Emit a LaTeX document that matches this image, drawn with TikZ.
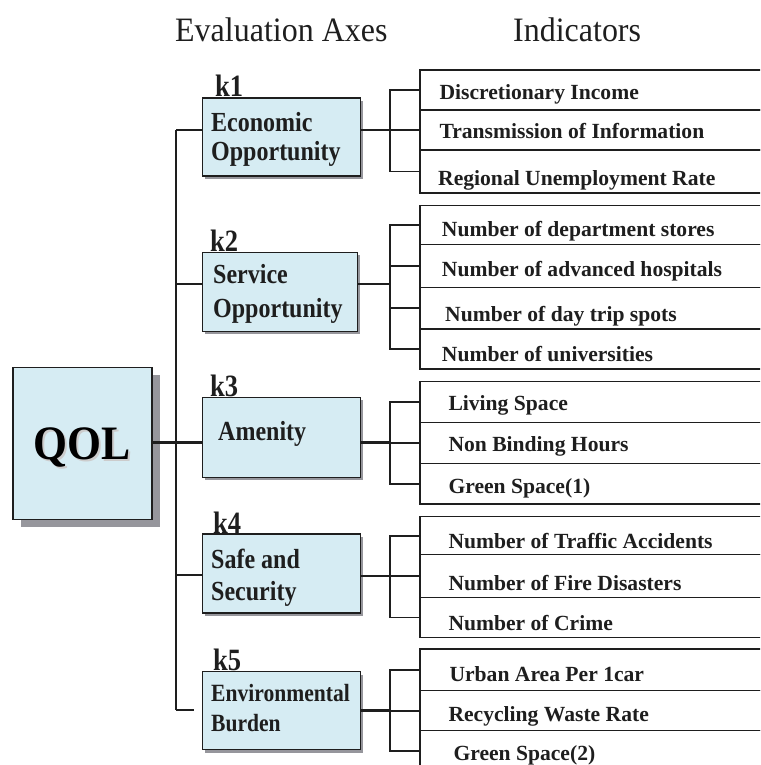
\documentclass[tikz,border=0pt]{standalone}
\usepackage{fontspec}
\setmainfont{Liberation Serif}
% narrowed faces, set at a larger size, give the tall lettering of the labels
\newfontfamily\condA[FakeStretch=0.87]{Liberation Serif}
\newfontfamily\condK[FakeStretch=0.855]{Liberation Serif}
\newfontfamily\condQ[FakeStretch=0.91]{Liberation Serif}
\newfontfamily\condH[FakeStretch=0.935]{Liberation Serif}
\usetikzlibrary{shadows,calc}
\definecolor{boxblue}{RGB}{214,236,243}
\definecolor{shade}{RGB}{150,150,156}
\definecolor{ink}{RGB}{30,30,30}
\begin{document}
\begin{tikzpicture}[x=1pt,y=-1pt,
  axisbox/.style={draw=ink, line width=1.3pt, fill=boxblue, anchor=north west,
    minimum width=158pt, minimum height=78pt, inner sep=0pt,
    drop shadow={shadow xshift=3pt, shadow yshift=-3pt, fill=shade, opacity=1}},
  qolbox/.style={draw=ink, line width=1.3pt, fill=boxblue, anchor=north west,
    minimum width=139pt, minimum height=152pt, inner sep=0pt,
    text height=31.7pt, text depth=0pt,
    font=\fontsize{48}{52}\condQ\bfseries,
    drop shadow={shadow xshift=8pt, shadow yshift=-8pt, fill=shade, opacity=1}},
  row/.style={draw=ink, line width=1.4pt, anchor=north west,
    minimum width=360pt, inner sep=0pt},
  ind/.style={font=\fontsize{21.6}{24}\selectfont\bfseries, text=ink,
    anchor=base west, inner sep=0pt},
  axtext/.style={font=\fontsize{27.6}{30}\condA\bfseries, text=ink,
    anchor=base west, inner sep=0pt},
  smalltext/.style={font=\fontsize{24.8}{28}\condA\bfseries},
  klabel/.style={font=\fontsize{31}{34}\condK\bfseries, text=ink,
    anchor=base west, inner sep=0pt},
  header/.style={font=\fontsize{34.2}{38}\condH, text=ink,
    anchor=base west, inner sep=0pt},
  trunk/.style={draw=ink, line width=2pt},
  branch/.style={draw=ink, line width=2.8pt},
  bracket/.style={draw=ink, line width=1.8pt}]

\useasboundingbox (0,0) rectangle (760,765);
\clip (0,0) rectangle (760,765);

% column headers
\node[header] (hAxes) at (175,41.2) {Evaluation Axes};
\node[header] (hInd) at (513,41.2) {Indicators};

% root
\node[qolbox] (qol) at (12.3,366.7)
  {\textcolor{gray!40}{\rlap{\kern1.8pt\raisebox{-1.8pt}{QOL}}}QOL};

% evaluation axes
\node[axisbox] (k1) at (201.7,97.3) {};
\node[axisbox, minimum width=155pt, minimum height=79pt] (k2) at (201.7,251.7) {};
\node[axisbox, minimum height=80pt] (k3) at (201.7,396.7) {};
\node[axisbox, minimum height=79pt] (k4) at (201.7,533.3) {};
\node[axisbox, minimum height=78pt] (k5) at (201.7,671) {};

\node[klabel] (k1l) at (215,97) {k1};
\node[klabel] (k2l) at (210,251.7) {k2};
\node[klabel] (k3l) at (210,396.5) {k3};
\node[klabel] (k4l) at (213,533.3) {k4};
\node[klabel] (k5l) at (213,670.5) {k5};

\node[axtext] (k1a) at (211,131.7) {Economic};
\node[axtext] (k1b) at (211,160) {Opportunity};
\node[axtext] (k2a) at (213,283) {Service};
\node[axtext] (k2b) at (213,317) {Opportunity};
\node[axtext] (k3a) at (218,440) {Amenity};
\node[axtext] (k4a) at (211,568) {Safe and};
\node[axtext] (k4b) at (211,600) {Security};
\node[axtext, smalltext] (k5a) at (211,701.7) {Environmental};
\node[axtext, smalltext] (k5b) at (211,731.7) {Burden};

% indicator rows
\node[row, minimum height=40pt] (r11) at (419.3,69.3) {};
\node[row, minimum height=40pt] (r12) at (419.3,109.3) {};
\node[row, minimum height=43pt] (r13) at (419.3,149.3) {};

\node[row, minimum height=39pt] (r21) at (419.3,205) {};
\node[row, minimum height=42.7pt] (r22) at (419.3,244) {};
\node[row, minimum height=41.6pt] (r23) at (419.3,286.7) {};
\node[row, minimum height=40pt] (r24) at (419.3,328.3) {};

\node[row, minimum height=41pt] (r31) at (419.3,380.7) {};
\node[row, minimum height=41pt] (r32) at (419.3,421.7) {};
\node[row, minimum height=40.6pt] (r33) at (419.3,462.7) {};

\node[row, minimum height=38pt] (r41) at (419.3,516) {};
\node[row, minimum height=42.7pt] (r42) at (419.3,554) {};
\node[row, minimum height=40pt] (r43) at (419.3,596.7) {};

\node[row, minimum height=41.7pt] (r51) at (419.3,648.3) {};
\node[row, minimum height=40pt] (r52) at (419.3,690) {};
\node[row, minimum height=41pt] (r53) at (419.3,730) {};

% indicator texts
\node[ind] (t11) at (439.3,100) {Discretionary Income};
\node[ind] (t12) at (439.3,139) {Transmission of Information};
\node[ind] (t13) at (438,185) {Regional Unemployment Rate};
\node[ind] (t21) at (441.7,236.7) {Number of department stores};
\node[ind] (t22) at (441.7,276.7) {Number of advanced hospitals};
\node[ind] (t23) at (445,321.7) {Number of day trip spots};
\node[ind] (t24) at (441.7,361.7) {Number of universities};
\node[ind] (t31) at (448.3,410) {Living Space};
\node[ind] (t32) at (448.3,451.7) {Non Binding Hours};
\node[ind] (t33) at (448.3,493.3) {Green Space(1)};
\node[ind] (t41) at (448.3,548.3) {Number of Traffic Accidents};
\node[ind] (t42) at (448.3,590) {Number of Fire Disasters};
\node[ind] (t43) at (448.3,630) {Number of Crime};
\node[ind] (t51) at (449.3,681.7) {Urban Area Per 1car};
\node[ind] (t52) at (448.3,721.7) {Recycling Waste Rate};
\node[ind] (t53) at (453.3,760) {Green Space(2)};

% junction points on the trunk and on the brackets
\coordinate (s1) at (176,130);
\coordinate (s2) at (176,284);
\coordinate (s3) at (176,442.7);
\coordinate (s4) at (176,575);
\coordinate (s5) at (176,710);
\coordinate (bx) at (390,0);
\coordinate (j1) at (390,130);
\coordinate (j2) at (390,284);
\coordinate (j3) at (390,442.7);
\coordinate (j4) at (390,576);
\coordinate (j5) at (390,710.5);

% trunk from QOL to the axes
\draw[trunk] (s1) -- (s5);
\draw[branch] (qol.east |- s3) -- (s3);
\draw[branch] (s1) -- (k1.west |- s1);
\draw[branch] (s2) -- (k2.west |- s2);
\draw[branch] (s3) -- (k3.west |- s3);
\draw[branch] (s4) -- (k4.west |- s4);
\coordinate (s5end) at ($(k5.west |- s5)+(-8,0)$);
\draw[branch] (s5) -- (s5end);

% axes to their brackets
\draw[branch] (k1.east |- j1) -- (j1);
\draw[branch] (k2.east |- j2) -- (j2);
\draw[branch] (k3.east |- j3) -- (j3);
\draw[branch] (k4.east |- j4) -- (j4);
\draw[branch] (k5.east |- j5) -- (j5);

% brackets to the indicator rows
\draw[bracket] (r11.west) -- (r11.west -| bx) -- (r13.west -| bx) -- (r13.west);
\draw[bracket] (r12.west -| bx) -- (r12.west);

\draw[bracket] (r21.west) -- (r21.west -| bx) -- (r24.west -| bx) -- (r24.west);
\draw[bracket] (r22.west -| bx) -- (r22.west);
\draw[bracket] (r23.west -| bx) -- (r23.west);

\draw[bracket] (r31.west) -- (r31.west -| bx) -- (r33.west -| bx) -- (r33.west);
\draw[bracket] (r32.west -| bx) -- (r32.west);

\draw[bracket] (r41.west) -- (r41.west -| bx) -- (r43.west -| bx) -- (r43.west);
\draw[bracket] (r42.west -| bx) -- (r42.west);

\draw[bracket] (r51.west) -- (r51.west -| bx) -- (r53.west -| bx) -- (r53.west);
\draw[bracket] (r52.west -| bx) -- (r52.west);

\end{tikzpicture}
\end{document}
